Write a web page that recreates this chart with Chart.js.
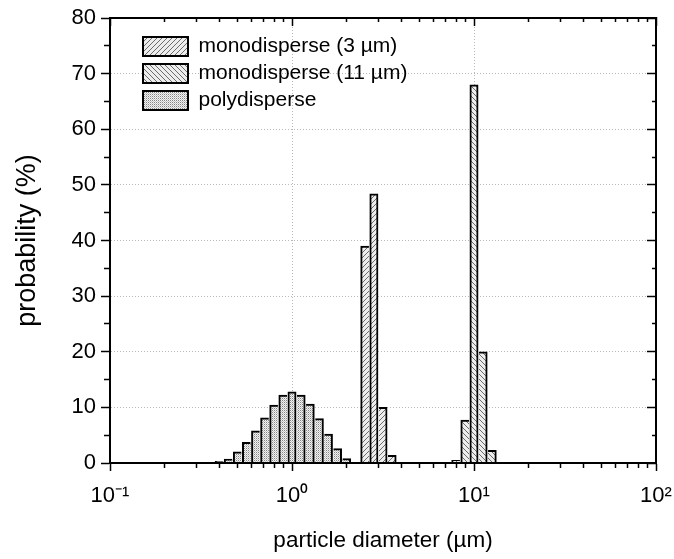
<!DOCTYPE html>
<html>
<head>
<meta charset="utf-8">
<script src="https://cdn.jsdelivr.net/npm/chart.js@4/dist/chart.umd.min.js"></script>
<style>
html,body{margin:0;padding:0;background:#fff;}
#wrap{width:674px;height:559px;position:relative;}
</style>
</head>
<body>
<div id="wrap"><canvas id="c" width="674" height="559"></canvas></div>
<script>
// ---- data ----
const SERIES_LABELS = ['monodisperse (3 µm)', 'monodisperse (11 µm)', 'polydisperse'];
const MONO3_D  = [2.512, 2.818, 3.162, 3.548];
const MONO3_P  = [39.0, 48.4, 10.0, 1.4];
const MONO11_D = [7.943, 8.913, 10.00, 11.22, 12.59];
const MONO11_P = [0.5, 7.7, 68.0, 20.0, 2.3];
const POLY_D   = [0.3981, 0.4467, 0.5012, 0.5623, 0.6310, 0.7079, 0.7943, 0.8913, 1.000, 1.122, 1.259, 1.413, 1.585, 1.778, 1.995];
const POLY_P   = [0.3, 0.7, 2.0, 3.7, 5.8, 8.1, 10.4, 12.2, 12.8, 12.2, 10.6, 8.0, 5.2, 2.6, 0.8];
const X_TICKS  = [0.1,0.2,0.3,0.4,0.5,0.6,0.7,0.8,0.9,1,2,3,4,5,6,7,8,9,10,20,30,40,50,60,70,80,90,100];
const X_MAJOR  = [0.1, 1, 10, 100];
const X_LABELS = ['10\u207B\u00B9', '10\u2070', '10\u00B9', '10\u00B2'];
const Y_TICKS  = [0,5,10,15,20,25,30,35,40,45,50,55,60,65,70,75,80];
const Y_LABELS = ['0','10','20','30','40','50','60','70','80'];

const FONT = "'Liberation Sans', Arial, Helvetica, sans-serif";
const canvas = document.getElementById('c');
const mainCtx = canvas.getContext('2d');

function hatch(dir) {
  const s = 5;
  const c = document.createElement('canvas'); c.width = s; c.height = s;
  const g = c.getContext('2d');
  g.fillStyle = '#ededed'; g.fillRect(0, 0, s, s);
  g.strokeStyle = '#6c6c6c'; g.lineWidth = 1;
  g.beginPath();
  if (dir > 0) {
    g.moveTo(-1, s + 1); g.lineTo(s + 1, -1);
    g.moveTo(-1, 1); g.lineTo(1, -1);
    g.moveTo(s - 1, s + 1); g.lineTo(s + 1, s - 1);
  } else {
    g.moveTo(-1, -1); g.lineTo(s + 1, s + 1);
    g.moveTo(s - 1, -1); g.lineTo(s + 1, 1);
    g.moveTo(-1, s - 1); g.lineTo(1, s + 1);
  }
  g.stroke();
  return mainCtx.createPattern(c, 'repeat');
}
function dots() {
  const s = 4;
  const c = document.createElement('canvas'); c.width = s; c.height = s;
  const g = c.getContext('2d');
  g.fillStyle = '#f2f2f2'; g.fillRect(0, 0, s, s);
  for (let x = 0; x < s; x++) for (let y = 0; y < s; y++) {
    if (x % 2 === 0 && y % 2 === 0) { g.fillStyle = '#858585'; g.fillRect(x, y, 1, 1); }
    else if (x % 2 === 1 && y % 2 === 1) { g.fillStyle = '#c4c4c4'; g.fillRect(x, y, 1, 1); }
  }
  return mainCtx.createPattern(c, 'repeat');
}

// outline each histogram step once: the taller of two neighbours draws the shared edge
function barBorder(ctx) {
  const d = ctx.dataset.data, i = ctx.dataIndex;
  const y = d[i].y;
  const prev = i > 0 ? d[i - 1].y : null;
  const next = i < d.length - 1 ? d[i + 1].y : null;
  return {
    top: 2,
    bottom: 0,
    left: (prev === null || prev <= y) ? 2 : 0,
    right: (next === null || next < y) ? 2 : 0
  };
}

const common = {borderColor: '#000', borderWidth: barBorder, borderSkipped: false, grouped: false,
  barPercentage: 1, categoryPercentage: 1};

const toXY = (xs, ys) => xs.map((x, i) => ({x: x, y: ys[i]}));

const isMajorX = v => X_MAJOR.indexOf(v) >= 0;
const tickOf = c => (c && c.tick) ? c.tick.value : null;
const noPadH = s => { s.paddingLeft = 0; s.paddingRight = 0; };
const noPadV = s => { s.paddingTop = 0; s.paddingBottom = 0; };

const legendShift = {
  id: 'legendShift',
  beforeDraw(chart) {
    const lg = chart.legend;
    if (lg) { lg.left = chart.chartArea.left + 27; lg.top = chart.chartArea.top + 12; }
  }
};

new Chart(mainCtx, {
  type: 'bar',
  data: {
    datasets: [
      Object.assign({label: SERIES_LABELS[0], data: toXY(MONO3_D, MONO3_P), backgroundColor: hatch(1)}, common),
      Object.assign({label: SERIES_LABELS[1], data: toXY(MONO11_D, MONO11_P), backgroundColor: hatch(-1)}, common),
      Object.assign({label: SERIES_LABELS[2], data: toXY(POLY_D, POLY_P), backgroundColor: dots()}, common)
    ]
  },
  options: {
    responsive: false,
    animation: false,
    devicePixelRatio: 1,
    layout: {padding: {top: 18, right: 18, left: 0, bottom: 0}},
    plugins: {
      tooltip: {enabled: false},
      legend: {
        position: 'chartArea',
        align: 'start',
        labels: {
          boxWidth: 45, boxHeight: 19, padding: 6, color: '#000',
          font: {family: FONT, size: 21},
          generateLabels: c => Chart.defaults.plugins.legend.labels.generateLabels(c).map(l => Object.assign(l, {lineWidth: 2}))
        }
      }
    },
    scales: {
      x: {
        type: 'logarithmic', position: 'bottom', min: 0.1, max: 100, offset: false,
        afterBuildTicks: s => { s.ticks = X_TICKS.map(v => ({value: v})); },
        afterFit: s => { s.height = 96; noPadH(s); },
        grid: {
          offset: false, lineWidth: 1,
          color: c => { const v = tickOf(c); return (v === 1 || v === 10) ? '#b8b8b8' : 'rgba(0,0,0,0)'; },
          tickLength: 8, tickWidth: 1.5, tickColor: '#000',
          tickBorderDash: c => isMajorX(tickOf(c)) ? [] : [4, 100]
        },
        border: {display: true, color: '#000', width: 2, dash: [1, 2], z: 1},
        ticks: {
          autoSkip: false, maxRotation: 0, minRotation: 0, padding: 12, color: '#000',
          font: {family: FONT, size: 22},
          callback: v => { const i = X_MAJOR.indexOf(v); return i >= 0 ? X_LABELS[i] : ''; }
        },
        title: {display: true, text: 'particle diameter (µm)', color: '#000',
          font: {family: FONT, size: 22.5}, padding: {top: 0, bottom: 4.5}}
      },
      x2: {
        type: 'logarithmic', position: 'top', min: 0.1, max: 100, offset: false,
        afterBuildTicks: s => { s.ticks = X_TICKS.map(v => ({value: v})); },
        afterFit: s => { s.height = 0; noPadH(s); },
        grid: {
          drawOnChartArea: false, offset: false,
          tickLength: -8, tickWidth: 1.5, tickColor: '#000',
          tickBorderDash: c => isMajorX(tickOf(c)) ? [] : [0, 4, 100]
        },
        border: {display: true, color: '#000', width: 2, z: 1},
        ticks: {display: false}
      },
      y: {
        type: 'linear', position: 'left', min: 0, max: 80,
        afterBuildTicks: s => { s.ticks = Y_TICKS.map(v => ({value: v})); },
        afterFit: s => { s.width = 110; noPadV(s); },
        grid: {
          lineWidth: 1,
          color: c => { const v = tickOf(c); return (v !== null && v % 10 === 0 && v > 0 && v < 80) ? '#b8b8b8' : 'rgba(0,0,0,0)'; },
          tickLength: 9, tickWidth: 1.5, tickColor: '#000',
          tickBorderDash: c => { const v = tickOf(c); return (v !== null && v % 10 !== 0) ? [0, 3, 5, 100] : []; }
        },
        border: {display: true, color: '#000', width: 2, dash: [1, 2], z: 1},
        ticks: {
          autoSkip: false, padding: 5, color: '#000',
          font: {family: FONT, size: 22},
          callback: v => { const i = Y_LABELS.indexOf(String(v)); return i >= 0 ? Y_LABELS[i] : ''; }
        },
        title: {display: true, text: 'probability (%)', color: '#000',
          font: {family: FONT, size: 27}, padding: {top: 11, bottom: 0}}
      },
      y2: {
        type: 'linear', position: 'right', min: 0, max: 80,
        afterBuildTicks: s => { s.ticks = Y_TICKS.map(v => ({value: v})); },
        afterFit: s => { s.width = 0; noPadV(s); },
        grid: {
          drawOnChartArea: false,
          tickLength: -9, tickWidth: 1.5, tickColor: '#000',
          tickBorderDash: c => { const v = tickOf(c); return (v !== null && v % 10 !== 0) ? [5, 100] : []; }
        },
        border: {display: true, color: '#000', width: 2, z: 1},
        ticks: {display: false}
      }
    }
  },
  plugins: [legendShift]
});
</script>
</body>
</html>
